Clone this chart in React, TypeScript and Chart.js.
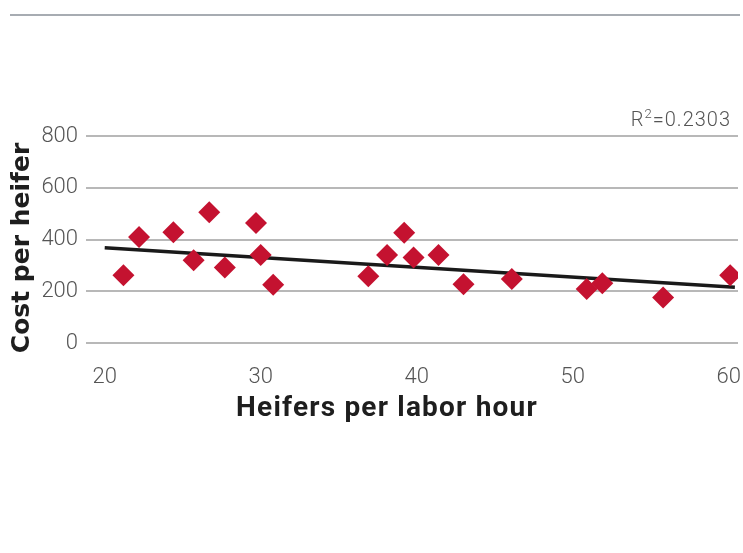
import React, { useEffect, useRef } from "react";
import { Chart, registerables } from "chart.js";

Chart.register(...registerables);

const heifersPerHour = [21.2, 22.2, 24.4, 25.7, 26.7, 27.7, 29.7, 30.0, 30.8, 36.9, 38.1, 39.2, 39.8, 41.4, 43.0, 46.1, 50.9, 51.9, 55.8, 60.1];
const costPerHeifer = [262, 410, 428, 320, 505, 292, 464, 340, 225, 258, 340, 426, 330, 340, 227, 247, 209, 231, 176, 262];
const trendX = [20, 60.4];
const trendY = [368, 215];
const xTicks = [20, 30, 40, 50, 60];
const yTicks = [0, 200, 400, 600, 800];
const rSquaredLabel = "0.2303";
const xTitle = "Heifers per labor hour";
const yTitle = "Cost per heifer";

const decorPlugin = {
  id: "decor",
  afterDraw(chart: any) {
    const ctx = chart.ctx;
    ctx.save();
    // top rule
    ctx.strokeStyle = "#8a9099";
    ctx.lineWidth = 1.5;
    ctx.beginPath();
    ctx.moveTo(10, 15);
    ctx.lineTo(740, 15);
    ctx.stroke();
    // x tick labels, positioned through the x scale
    const xs = chart.scales.x;
    ctx.fillStyle = "#555555";
    ctx.font = "300 22px Roboto";
    ctx.textAlign = "center";
    ctx.textBaseline = "alphabetic";
    xTicks.forEach((v) => {
      ctx.fillText(String(v), xs.getPixelForValue(v), 383);
    });
    // R^2 label
    ctx.textAlign = "left";
    (ctx as any).letterSpacing = "1px";
    const big = "300 20px Roboto";
    const small = "300 13px Roboto";
    const base = 126;
    ctx.font = big;
    const rw = ctx.measureText("R").width;
    ctx.font = small;
    const sw = ctx.measureText("2").width;
    ctx.font = big;
    const rest = "=" + rSquaredLabel;
    const restW = ctx.measureText(rest).width;
    const total = rw + sw + restW;
    let x = 731 - total;
    ctx.fillText("R", x, base);
    x += rw;
    ctx.font = small;
    ctx.fillText("2", x, base - 8);
    x += sw;
    ctx.font = big;
    ctx.fillText(rest, x, base);
    // axis titles
    ctx.fillStyle = "#1e1e1e";
    ctx.font = "bold 28px Roboto";
    (ctx as any).letterSpacing = "1.2px";
    ctx.textAlign = "center";
    ctx.textBaseline = "alphabetic";
    ctx.fillText(xTitle, 387, 416);
    (ctx as any).letterSpacing = "0px";
    ctx.save();
    ctx.translate(22, 248);
    ctx.rotate(-Math.PI / 2);
    ctx.textBaseline = "middle";
    ctx.font = "bold 25px 'DejaVu Sans'";
    ctx.fillText(yTitle, 0, 0);
    ctx.restore();
    ctx.restore();
  },
};

export default function App() {
  const ref = useRef<HTMLCanvasElement>(null);
  useEffect(() => {
    document.body.style.margin = "0";
    const points = heifersPerHour.map((x, i) => ({ x, y: costPerHeifer[i] }));
    const trend = trendX.map((x, i) => ({ x, y: trendY[i] }));
    const chart = new Chart(ref.current as HTMLCanvasElement, {
      type: "scatter",
      data: {
        datasets: [
          {
            type: "line",
            data: trend,
            borderColor: "#1a1a1a",
            borderWidth: 3.5,
            pointRadius: 0,
            fill: false,
            order: 2,
          } as any,
          {
            data: points,
            pointStyle: "rectRot",
            pointRadius: 11,
            pointHoverRadius: 11,
            backgroundColor: "#c41230",
            borderColor: "#c41230",
            borderWidth: 0,
            order: 1,
          },
        ],
      },
      options: {
        responsive: false,
        animation: false,
        layout: { autoPadding: false, padding: { left: 0, right: 5, top: 136, bottom: 0 } },
        plugins: { legend: { display: false }, tooltip: { enabled: false } },
        scales: {
          x: {
            type: "linear",
            min: 18.8,
            max: 60.6,
            afterBuildTicks: (s: any) => {
              s.ticks = xTicks.map((v) => ({ value: v }));
            },
            afterFit: (s: any) => {
              s.height = 210;
            },
            grid: { display: false, drawTicks: false },
            border: { display: false },
            ticks: { display: false },
          },
          y: {
            min: 0,
            max: 800,
            afterBuildTicks: (s: any) => {
              s.ticks = yTicks.map((v) => ({ value: v }));
            },
            afterFit: (s: any) => {
              s.width = 86;
            },
            grid: { color: "#b8b8b8", lineWidth: 2, drawTicks: false },
            border: { display: false },
            ticks: {
              color: "#555555",
              font: { family: "Roboto", size: 22, weight: 300 as any },
              padding: 8,
            },
          },
        },
      },
      plugins: [decorPlugin],
    });
    return () => chart.destroy();
  }, []);
  return <canvas ref={ref} width={743} height={553} style={{ display: "block" }} />;
}
